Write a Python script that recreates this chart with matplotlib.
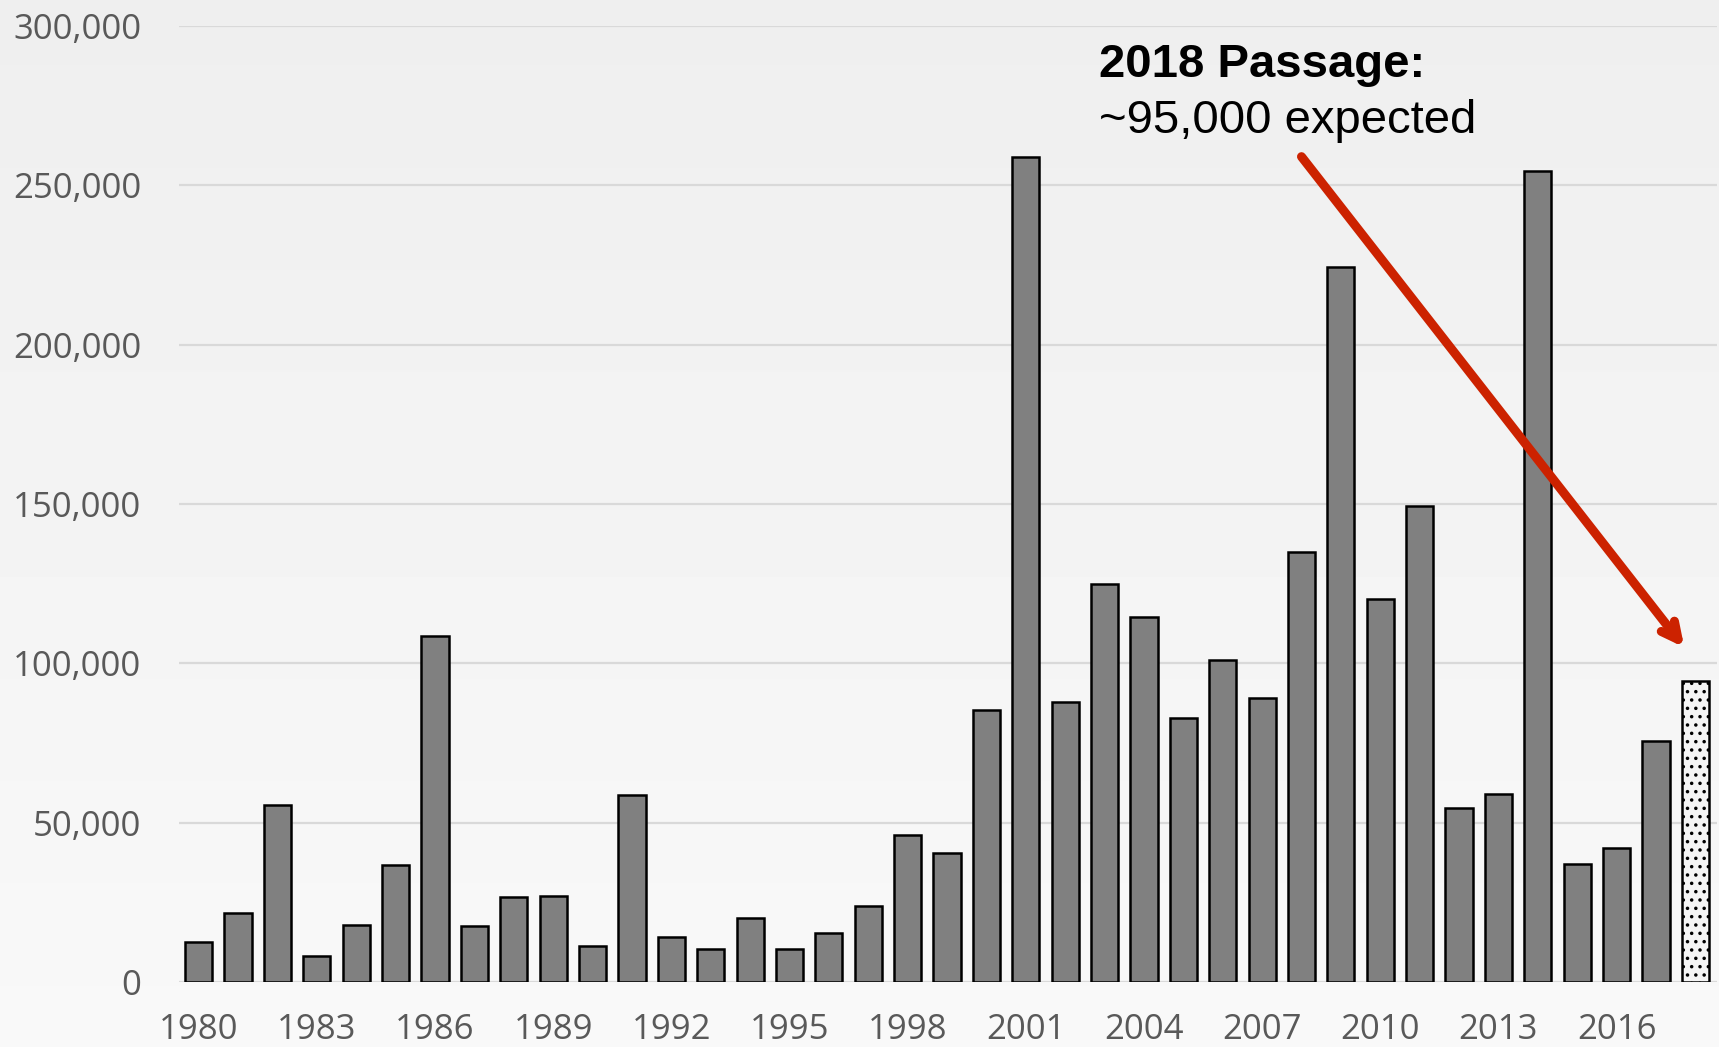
import matplotlib
matplotlib.use("Agg")
import matplotlib.pyplot as plt
import numpy as np

years = list(range(1980, 2019))
passage = [12700, 21700, 55600, 8200, 17900, 36700, 108600, 17700, 26800, 27100,
           11400, 58700, 14200, 10400, 20100, 10300, 15500, 23700, 46000, 40500,
           85200, 259000, 88000, 125000, 114400, 82800, 101000, 89000, 135000, 224400,
           120300, 149500, 54600, 59100, 254600, 37100, 41900, 75600, 94500]
tick_years = list(range(1980, 2018, 3))
y_ticks = [0, 50000, 100000, 150000, 200000, 250000, 300000]
title_bold = "2018 Passage:"
title_rest = "~95,000 expected"

fig = plt.figure(figsize=(17.19, 10.47), dpi=100)

# background gradient
bg = fig.add_axes([0, 0, 1, 1], zorder=-10)
grad = np.linspace(0.935, 0.975, 256).reshape(-1, 1)
bg.imshow(grad, aspect='auto', cmap='gray', vmin=0, vmax=1, extent=[0, 1, 1, 0])
bg.set_axis_off()

ax = fig.add_axes([179/1719, 1 - 982/1047, (1717-179)/1719, (982-26)/1047])
ax.set_facecolor('none')

plt.rcParams['hatch.linewidth'] = 1.3
x = np.arange(len(years))
colors = ['#808080'] * (len(years) - 1) + ['#f4f4f4']
bars = ax.bar(x, passage, width=0.69, color=colors, edgecolor='black', linewidth=1.8, zorder=3)
bars[-1].set_hatch('..')

ax.set_xlim(-0.5, len(years) - 0.45)
ax.set_ylim(0, 300000)
ax.set_yticks(y_ticks)
ax.set_yticklabels([f"{v:,}" for v in y_ticks])
ax.set_xticks([years.index(t) for t in tick_years])
ax.set_xticklabels([str(t) for t in tick_years])

for s in ax.spines.values():
    s.set_visible(False)
ax.grid(axis='y', color='#d9d9d9', linewidth=1.6, zorder=0)
ax.axhline(0, color='#d9d9d9', linewidth=2, zorder=2)
ax.tick_params(axis='both', length=0, labelsize=25, labelcolor='#595959')
ax.tick_params(axis='y', pad=27)
ax.tick_params(axis='x', pad=22)
for lab in ax.get_xticklabels() + ax.get_yticklabels():
    lab.set_fontfamily('Open Sans')

ax.text(22.86, 284000, title_bold, fontsize=34, fontweight='bold',
        family='Liberation Sans', va='baseline', ha='left', color='black')
ax.text(22.86, 266500, title_rest, fontsize=34,
        family='Liberation Sans', va='baseline', ha='left', color='black')

ax.annotate('', xy=(37.72, 105000), xytext=(28.0, 259000),
            arrowprops=dict(arrowstyle='->,head_length=1.2,head_width=0.6',
                            color='#cc2200', lw=6.5, capstyle='round',
                            joinstyle='round', shrinkA=0, shrinkB=0),
            zorder=5)

fig.savefig('out.png', dpi=100)
